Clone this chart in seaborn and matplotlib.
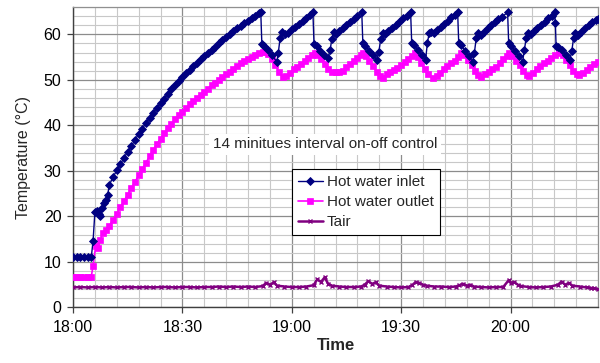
import matplotlib
matplotlib.use("Agg")
import matplotlib.pyplot as plt
from matplotlib.ticker import MultipleLocator, FixedLocator
import seaborn as sns
import pandas as pd

# ---------------- data (minutes after 18:00, temperature in degC) ----------------
inlet_t = [0, 1, 2, 3, 4, 5, 5.5, 6, 6.6, 7, 7.5, 8, 8.5, 9, 9.5, 10,
           11, 12, 13, 14, 15, 16, 17, 18, 19, 20, 21, 22, 23, 24, 25, 26, 27, 28, 29, 30,
           31, 32, 33, 34, 35, 36, 37, 38, 39, 40, 41, 42, 43, 44, 45, 46, 47, 48, 49, 50, 51, 51.5,
           51.8, 52.5, 53.5, 54.5, 55.9, 56.3, 56.8, 57.3, 58.2, 59.0, 60.0, 61.0, 62.0, 63.0, 64.0, 65.0, 65.8,
           66.1, 66.8, 67.8, 68.8, 70.0, 70.5, 71.0, 71.5, 72.2, 73.0, 74.0, 75.0, 76.0, 77.0, 78.0, 79.2,
           79.5, 80.2, 81.2, 82.2, 83.4, 83.9, 84.4, 84.9, 85.6, 86.5, 87.5, 88.5, 89.5, 90.5, 91.5, 92.6,
           92.9, 93.6, 94.6, 95.6, 96.7, 97.2, 97.7, 98.3, 98.9, 99.8, 100.8, 101.8, 102.8, 103.8, 104.7, 105.5,
           105.8, 106.5, 107.5, 108.5, 109.6, 110.1, 110.6, 111.1, 111.8, 112.7, 113.7, 114.7, 115.7, 116.7, 117.7, 119.2,
           119.5, 120.2, 121.2, 122.2, 123.3, 123.8, 124.3, 124.8, 125.5, 126.4, 127.4, 128.4, 129.4, 130.4, 131.3, 132.1,
           132.3, 132.5, 133.1, 134.1, 135.1, 136.3, 136.8, 137.3, 137.8, 138.5, 139.4, 140.4, 141.4, 142.4, 143.4, 144.0]
inlet_T = [11.0, 11.0, 11.0, 11.0, 11.0, 11.0, 14.6, 21.0, 21.2, 20.6, 20.2, 21.8, 23.0, 23.6, 24.8, 27.0,
           28.7, 30.1, 31.5, 32.9, 34.2, 35.5, 36.8, 38.1, 39.3, 40.5, 41.7, 42.8, 43.8, 44.9, 45.9, 46.9, 47.9, 48.8, 49.7, 50.6,
           51.4, 52.2, 53.0, 53.8, 54.5, 55.2, 55.9, 56.6, 57.3, 58.0, 58.7, 59.4, 60.0, 60.7, 61.3, 61.9, 62.5, 63.0, 63.6, 64.1, 64.6, 64.8,
           57.8, 57.4, 56.5, 55.4, 54.0, 55.9, 59.2, 60.5, 60.0, 60.4, 61.1, 61.7, 62.3, 63.0, 63.6, 64.2, 64.8,
           57.9, 57.4, 56.4, 55.5, 54.8, 56.5, 59.0, 60.5, 60.1, 60.7, 61.4, 62.1, 62.7, 63.4, 64.0, 64.8,
           58.0, 57.5, 56.4, 55.4, 54.4, 56.2, 59.0, 60.4, 60.0, 60.7, 61.4, 62.1, 62.8, 63.5, 64.1, 64.8,
           58.1, 57.6, 56.5, 55.5, 54.4, 58.1, 60.3, 60.6, 60.2, 60.9, 61.6, 62.3, 63.0, 63.7, 64.2, 64.8,
           58.0, 57.6, 56.4, 55.2, 54.0, 56.0, 59.2, 60.3, 59.9, 60.6, 61.3, 62.0, 62.7, 63.3, 63.9, 64.8,
           58.0, 57.5, 56.3, 55.2, 54.0, 56.5, 59.3, 60.4, 60.0, 60.7, 61.4, 62.1, 62.8, 63.5, 64.1, 64.8,
           62.5, 57.4, 57.3, 56.5, 55.5, 54.4, 56.3, 59.2, 60.3, 59.9, 60.6, 61.3, 62.0, 62.6, 63.1, 63.4]

outlet_t = [0, 1, 2, 3, 4, 5, 5.5, 6.2, 6.8, 7.5, 8.2, 9, 10, 11, 12, 13, 14, 15, 16, 17, 18, 19, 20,
            21, 22, 23, 24, 25, 26, 27, 28, 29, 30, 31, 32, 33, 34, 35, 36, 37, 38, 39, 40,
            41, 42, 43, 44, 45, 46, 47, 48, 49, 50, 51, 52, 52.6,
            53.5, 54.5, 55.5, 56.5, 57.5, 58.5, 59.5, 60.5, 61.5, 62.5, 63.5, 64.5, 65.5, 66.3,
            67.0, 68.0, 69.0, 70.0, 71.0, 72.0, 73.0, 74.0, 75.0, 76.0, 77.0, 78.0, 79.0, 79.5,
            80.3, 81.3, 82.3, 83.3, 84.3, 85.0, 86.0, 87.0, 88.0, 89.0, 90.0, 91.0, 92.0, 93.0, 93.7,
            94.5, 95.5, 96.5, 97.5, 98.7, 99.7, 100.7, 101.7, 102.7, 103.7, 104.7, 105.6, 106.5,
            107.3, 108.3, 109.3, 110.3, 111.2, 112.0, 113.0, 114.0, 115.0, 116.1, 117.0, 118.0, 119.0, 119.7,
            120.5, 121.5, 122.5, 123.5, 124.4, 125.2, 126.2, 127.2, 128.2, 129.2, 130.2, 131.2, 132.3, 133.4,
            134.3, 135.3, 136.2, 137.2, 138.2, 138.9, 139.9, 140.9, 141.9, 142.9, 144.0]
outlet_T = [6.8, 6.8, 6.8, 6.8, 6.8, 6.8, 9.1, 13.4, 13.1, 14.8, 16.4, 17.0, 18.0, 19.3, 20.6, 22.0, 23.4, 24.8, 26.2, 27.6, 29.0, 30.4, 31.8,
            33.2, 34.6, 35.9, 37.1, 38.3, 39.4, 40.4, 41.3, 42.2, 43.0, 43.8, 44.6, 45.3, 46.0, 46.7, 47.4, 48.1, 48.8, 49.4, 50.0,
            50.6, 51.2, 51.8, 52.4, 53.0, 53.6, 54.1, 54.6, 55.0, 55.4, 55.8, 56.1, 56.2,
            55.6, 54.6, 53.2, 51.8, 50.7, 50.9, 51.6, 52.3, 52.9, 53.5, 54.1, 54.8, 55.4, 55.8,
            55.5, 54.5, 53.4, 52.4, 51.8, 51.7, 51.8, 52.0, 52.8, 53.5, 54.2, 54.9, 55.5, 55.8,
            55.3, 54.2, 53.0, 51.8, 50.8, 50.5, 51.2, 51.8, 52.2, 52.7, 53.2, 53.9, 54.6, 55.3, 55.9,
            55.0, 53.6, 52.4, 51.2, 50.4, 50.8, 51.6, 52.4, 53.1, 53.6, 54.2, 55.0, 56.0,
            55.4, 54.4, 53.2, 52.0, 51.0, 50.7, 51.2, 51.8, 52.4, 52.9, 53.6, 54.5, 55.3, 55.9,
            55.2, 54.1, 53.2, 52.0, 51.1, 50.9, 51.6, 52.4, 53.0, 53.6, 54.2, 54.8, 55.4, 56.0,
            55.5, 54.3, 53.3, 52.0, 51.3, 51.1, 51.6, 52.2, 52.9, 53.5, 54.0]

tair_t = [0, 2, 4, 6, 8, 10, 12, 14, 16, 18, 20, 22, 24, 26, 28, 30, 32, 34, 36, 38, 40, 42, 44, 46, 48, 50,
          52, 53, 54, 55, 56, 58, 60, 62, 64, 66, 67, 68, 69, 70, 71, 73, 75, 77, 79, 80, 81, 82, 83, 84,
          86, 88, 90, 92, 93, 94, 95, 96, 97, 99, 101, 103, 105, 106, 107, 108, 109, 110, 112, 114, 116, 118,
          119.5, 120, 121, 122, 123, 125, 127, 129, 131, 133, 134, 135, 136, 137, 139, 141, 142, 143, 144]
tair_T = [4.4, 4.5, 4.4, 4.5, 4.4, 4.5, 4.4, 4.5, 4.5, 4.4, 4.5, 4.4, 4.5, 4.5, 4.4, 4.5, 4.5, 4.4, 4.5, 4.5, 4.6, 4.5, 4.6, 4.5, 4.6, 4.5,
          4.7, 5.4, 5.0, 5.5, 4.8, 4.6, 4.5, 4.5, 4.6, 4.9, 6.2, 5.6, 6.6, 5.2, 4.8, 4.6, 4.5, 4.5, 4.6, 5.0, 5.8, 5.2, 5.5, 4.8,
          4.6, 4.5, 4.4, 4.5, 4.9, 5.6, 5.4, 5.0, 4.8, 4.6, 4.6, 4.5, 4.6, 4.9, 5.2, 4.8, 5.0, 4.6, 4.5, 4.4, 4.5, 4.5,
          6.0, 5.4, 5.6, 5.0, 4.7, 4.5, 4.4, 4.5, 4.6, 5.0, 5.7, 5.0, 5.4, 4.8, 4.6, 4.4, 4.3, 4.2, 4.0]

series_names = ["Hot water inlet", "Hot water outlet", "Tair"]
x_tick_pos = [0, 30, 60, 90, 120]
x_tick_labels = ["18:00", "18:30", "19:00", "19:30", "20:00"]
y_ticks = [0, 10, 20, 30, 40, 50, 60]
annotation = "14 minitues interval on-off control"

# ---------------- plotting ----------------
sns.set_theme(style="white")
plt.rcParams["font.family"] = ["Liberation Sans", "DejaVu Sans"]

fig = plt.figure(figsize=(6.0, 3.63), dpi=100)
ax = fig.add_axes([0.1217, 0.1529, 0.8750, 0.8278])

df_in = pd.DataFrame({"t": inlet_t, "T": inlet_T})
df_out = pd.DataFrame({"t": outlet_t, "T": outlet_T})
df_air = pd.DataFrame({"t": tair_t, "T": tair_T})

sns.lineplot(data=df_in, x="t", y="T", ax=ax, color="#000080", lw=1.0,
             marker="D", markersize=3.8, markeredgecolor="#000080", markeredgewidth=0.6,
             estimator=None, sort=False, label=series_names[0], zorder=4)
sns.lineplot(data=df_out, x="t", y="T", ax=ax, color="#FF00FF", lw=1.2,
             marker="s", markersize=4.8, markeredgecolor="#FF00FF", markeredgewidth=0.5,
             estimator=None, sort=False, label=series_names[1], zorder=3)
sns.lineplot(data=df_air, x="t", y="T", ax=ax, color="#800080", lw=1.8,
             marker="x", markersize=3.5, markeredgecolor="#800080", markeredgewidth=1.0,
             estimator=None, sort=False, label=series_names[2], zorder=3)

ax.set_xlim(0, 144)
ax.set_ylim(0, 66)
ax.xaxis.set_major_locator(FixedLocator(x_tick_pos))
ax.set_xticklabels(x_tick_labels)
ax.xaxis.set_minor_locator(MultipleLocator(6))
ax.set_yticks(y_ticks)
ax.yaxis.set_minor_locator(MultipleLocator(2))

ax.set_axisbelow(True)
ax.grid(which="major", color="#8c8c8c", lw=0.9)
ax.grid(which="minor", color="#c8c8c8", lw=0.8)

ax.tick_params(axis="both", which="major", direction="out", length=4.3, width=0.9,
               color="#404040", labelsize=11.5, labelcolor="black")
ax.tick_params(axis="x", which="major", pad=5)
ax.tick_params(axis="y", which="major", pad=4)
ax.tick_params(which="minor", length=0)
ax.xaxis.set_ticks_position("bottom")
ax.yaxis.set_ticks_position("left")

for side in ["left", "bottom"]:
    ax.spines[side].set_color("#404040")
    ax.spines[side].set_linewidth(1.0)
for side in ["top", "right"]:
    ax.spines[side].set_color("#909090")
    ax.spines[side].set_linewidth(0.9)

ax.set_xlabel("Time", fontsize=12, fontweight="bold", labelpad=2)
ax.set_ylabel("Temperature (\u00b0C)", fontsize=11.5, labelpad=9)

ax.text(69.1, 35.9, annotation, ha="center", va="center", fontsize=11,
        bbox=dict(facecolor="white", edgecolor="none", pad=2.5), zorder=5)

leg = ax.legend(loc="upper left", bbox_to_anchor=(0.417, 0.461), borderaxespad=0,
                fontsize=11, frameon=True, fancybox=False, framealpha=1,
                edgecolor="black", handlelength=1.6, handletextpad=0.3,
                borderpad=0.4, labelspacing=0.4)
leg.get_frame().set_linewidth(0.8)
leg.set_zorder(6)

fig.savefig("out.png", dpi=100)
